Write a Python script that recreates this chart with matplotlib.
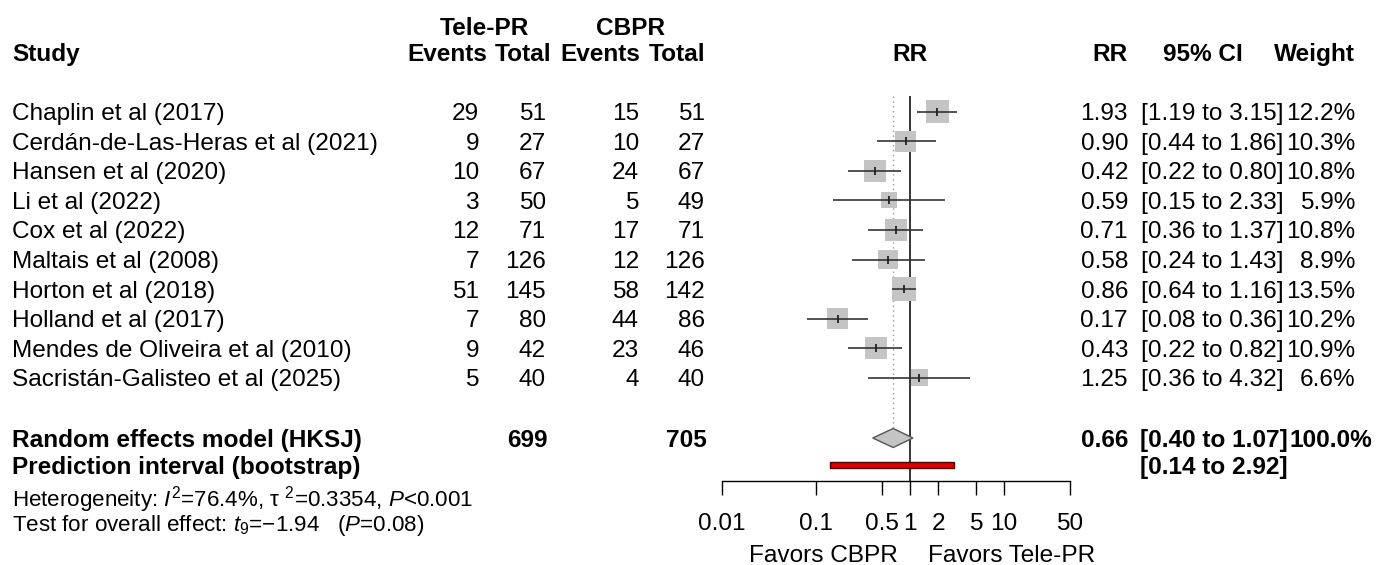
import numpy as np
import matplotlib
matplotlib.use('Agg')
import matplotlib.pyplot as plt

plt.rcParams['font.family'] = ['Liberation Sans', 'DejaVu Sans']
plt.rcParams['mathtext.fontset'] = 'custom'
plt.rcParams['mathtext.rm'] = 'Liberation Sans'
plt.rcParams['mathtext.it'] = 'Liberation Sans:italic'

# data
studies = ['Chaplin et al (2017)', 'Cerdán-de-Las-Heras et al (2021)', 'Hansen et al (2020)',
           'Li et al (2022)', 'Cox et al (2022)', 'Maltais et al (2008)', 'Horton et al (2018)',
           'Holland et al (2017)', 'Mendes de Oliveira et al (2010)', 'Sacristán-Galisteo et al (2025)']
teleEvents = [29, 9, 10, 3, 12, 7, 51, 7, 9, 5]
teleTotal = [51, 27, 67, 50, 71, 126, 145, 80, 42, 40]
cbprEvents = [15, 10, 24, 5, 17, 12, 58, 44, 23, 4]
cbprTotal = [51, 27, 67, 49, 71, 126, 142, 86, 46, 40]
rr = [1.93, 0.90, 0.42, 0.59, 0.71, 0.58, 0.86, 0.17, 0.43, 1.25]
ciLow = [1.19, 0.44, 0.22, 0.15, 0.36, 0.24, 0.64, 0.08, 0.22, 0.36]
ciHigh = [3.15, 1.86, 0.80, 2.33, 1.37, 1.43, 1.16, 0.36, 0.82, 4.32]
weight = [12.2, 10.3, 10.8, 5.9, 10.8, 8.9, 13.5, 10.2, 10.9, 6.6]

pooledRR = 0.66
pooledLow = 0.40
pooledHigh = 1.07
predLow = 0.14
predHigh = 2.92
totalTele = 699
totalCbpr = 705

tickVals = [0.01, 0.1, 0.5, 1, 2, 5, 10, 50]
tickLabels = ['0.01', '0.1', '0.5', '1', '2', '5', '10', '50']

W, H = 1390, 565
fig = plt.figure(figsize=(W / 100, H / 100), dpi=100)

# text layer in pixel coordinates
ax = fig.add_axes([0, 0, 1, 1])
ax.set_xlim(0, W)
ax.set_ylim(H, 0)
ax.axis('off')

fs = 17.6
fsSmall = 16.1
VA = 'center_baseline'
rowY0 = 111.5
rowStep = 29.6
rowY = [rowY0 + i * rowStep for i in range(len(studies))]
yRandom = 438
yPred = 465
yHet = 495
yTest = 522

xStudy = 12
headRight = [487, 551, 640, 705]
valRight = [479, 546, 639, 705]
xRR = 1128
xCI = 1141
xW = 1355


def txt(x, y, s, ha='left', bold=False, size=fs):
    ax.text(x, y, s, ha=ha, va=VA, fontsize=size, fontweight='bold' if bold else 'normal')


# headers
txt(484, 26, 'Tele-PR', 'center', True)
txt(631, 26, 'CBPR', 'center', True)
txt(xStudy, 52, 'Study', 'left', True)
for x, lab in zip(headRight, ['Events', 'Total', 'Events', 'Total']):
    txt(x, 52, lab, 'right', True)
txt(910, 52, 'RR', 'center', True)
txt(xRR, 52, 'RR', 'right', True)
txt(1203, 52, '95% CI', 'center', True)
txt(xW, 52, 'Weight', 'right', True)

# study rows
for i in range(len(studies)):
    y = rowY[i]
    txt(xStudy, y, studies[i])
    vals = [teleEvents[i], teleTotal[i], cbprEvents[i], cbprTotal[i]]
    for x, v in zip(valRight, vals):
        txt(x, y, str(v), 'right')
    txt(xRR, y, '%.2f' % rr[i], 'right')
    txt(xCI, y, '[%.2f to %.2f]' % (ciLow[i], ciHigh[i]))
    txt(xW, y, '%.1f%%' % weight[i], 'right')

# pooled rows
txt(xStudy, yRandom, 'Random effects model (HKSJ)', bold=True)
txt(548, yRandom, str(totalTele), 'right', True)
txt(707, yRandom, str(totalCbpr), 'right', True)
txt(xRR, yRandom, '%.2f' % pooledRR, 'right', True)
txt(xCI - 1, yRandom, '[%.2f to %.2f]' % (pooledLow, pooledHigh), bold=True)
txt(1372, yRandom, '100.0%', 'right', True)

txt(xStudy, yPred, 'Prediction interval (bootstrap)', bold=True)
txt(xCI - 1, yPred, '[%.2f to %.2f]' % (predLow, predHigh), bold=True)

txt(xStudy, yHet, r'Heterogeneity: $\mathit{I}^{2}$=76.4%, τ $^{2}$=0.3354, $\mathit{P}$<0.001',
    size=fsSmall)
txt(xStudy, yTest, r'Test for overall effect: $\mathit{t}_{9}$=−1.94   ($\mathit{P}$=0.08)',
    size=fsSmall)

# forest panel, log x, same pixel y
axF = fig.add_axes([722 / W, 0, 348 / W, 1])
axF.set_xscale('log')
axF.set_xlim(0.01, 50)
axF.set_ylim(H, 0)
axF.patch.set_alpha(0)
for s in ['top', 'right', 'left']:
    axF.spines[s].set_visible(False)
axF.spines['bottom'].set_position(('data', 481))
axF.spines['bottom'].set_linewidth(1.0)
axF.set_yticks([])
axF.set_xticks(tickVals)
axF.set_xticklabels(tickLabels, fontsize=fs)
axF.minorticks_off()
axF.tick_params(axis='x', direction='out', length=10, width=1.0, pad=13)

axF.vlines(1, 96, 481, color='black', lw=1.1, zorder=1)
axF.vlines(pooledRR, 96, 428, color='#999999', lw=1.0, linestyles=(0, (1, 2.5)), zorder=1)

sides = [23 * np.sqrt(w / 12.2) * 0.72 for w in weight]
axF.scatter(rr, rowY, s=[sd ** 2 for sd in sides], marker='s', color='#C4C4C4',
            edgecolors='none', zorder=2)
axF.hlines(rowY, ciLow, ciHigh, color='#333333', lw=1.2, zorder=3)
axF.scatter(rr, rowY, s=38, marker='|', color='#222222', linewidths=1.3, zorder=4)

# diamond
dx = [pooledLow, pooledRR, pooledHigh, pooledRR]
dy = [yRandom, yRandom - 9.5, yRandom, yRandom + 9.5]
axF.fill(dx, dy, facecolor='#C4C4C4', edgecolor='#555555', lw=1.0, zorder=3)

# prediction interval
axF.fill([predLow, predHigh, predHigh, predLow], [yPred - 3, yPred - 3, yPred + 3, yPred + 3],
         facecolor='#DD0000', edgecolor='#550000', lw=1.0, zorder=3)

axF.text(898, 554, 'Favors CBPR', transform=ax.transData, ha='right', va=VA, fontsize=fs)
axF.text(928, 554, 'Favors Tele-PR', transform=ax.transData, ha='left', va=VA, fontsize=fs)

fig.savefig('out.png', dpi=100)
